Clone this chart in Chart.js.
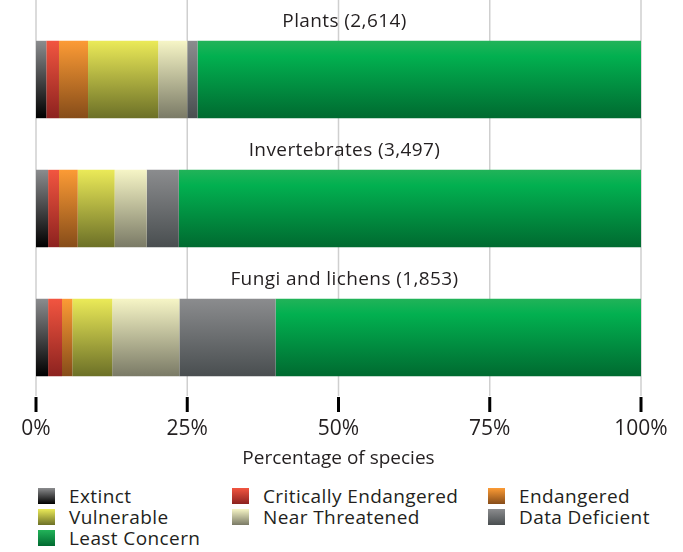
<!DOCTYPE html>
<html>
<head>
<meta charset="utf-8">
<script src="https://cdn.jsdelivr.net/npm/chart.js@4.4.1/dist/chart.umd.min.js"></script>
<style>
  html, body { margin: 0; padding: 0; background: #fff; }
  #wrap { position: relative; width: 683px; height: 552px; }
  #chartBox { position: absolute; left: 0; top: 0; width: 683px; height: 470px; }
  #legend {
    position: absolute; left: 38px; top: 485px;
    display: grid; grid-template-columns: 194px 256px 190px;
    font-family: "Open Sans", "Liberation Sans", sans-serif;
    font-size: 19px; letter-spacing: 0.4px; color: #231f20;
  }
  .item { display: flex; align-items: center; height: 21px; white-space: nowrap; }
  .sw { width: 17px; height: 16px; margin-right: 14px; flex: none; }
</style>
</head>
<body>
<div id="wrap">
  <div id="chartBox"><canvas id="rlChart"></canvas></div>
  <div id="legend"></div>
</div>
<script>
const categories = ['Plants (2,614)', 'Invertebrates (3,497)', 'Fungi and lichens (1,853)'];
const seriesNames = ['Extinct', 'Critically Endangered', 'Endangered', 'Vulnerable', 'Near Threatened', 'Data Deficient', 'Least Concern'];

// percentage of assessed species per category
const extinct        = [1.7, 2.0, 2.0];
const critically     = [2.1, 1.8, 2.3];
const endangered     = [4.8, 3.1, 1.7];
const vulnerable     = [11.6, 6.1, 6.6];
const nearThreatened = [4.8, 5.3, 11.1];
const dataDeficient  = [1.7, 5.3, 15.9];
const leastConcern   = [73.3, 76.4, 60.4];

const xTicks = [0, 25, 50, 75, 100];

// gradient stops top -> bottom for each category
const shades = [
  ['#8b8c8e', '#000000'],
  ['#f25540', '#8c221f'],
  ['#fc9b35', '#864c19'],
  ['#ebea58', '#6c7027'],
  ['#f6f5c6', '#7a7a66'],
  ['#8b8c8e', '#494e50'],
  ['#22b359', '#02b050', '#006a30']
];

const values = [extinct, critically, endangered, vulnerable, nearThreatened, dataDeficient, leastConcern];
const BAR_PCT = 0.6;
const FONT = '"Open Sans", "Liberation Sans", sans-serif';

function barFill(context, k) {
  const stops = shades[k];
  const chart = context.chart;
  const y = chart.scales.y;
  if (context.type !== 'data' || !y || !chart.chartArea) return stops[0];
  const band = (y.bottom - y.top) / categories.length;
  const h = band * BAR_PCT;
  const cy = y.getPixelForValue(context.dataIndex);
  const g = chart.ctx.createLinearGradient(0, cy - h / 2, 0, cy + h / 2);
  if (stops.length === 3) {
    g.addColorStop(0, stops[0]);
    g.addColorStop(0.2, stops[1]);
    g.addColorStop(1, stops[2]);
  } else {
    g.addColorStop(0, stops[0]);
    g.addColorStop(1, stops[1]);
  }
  return g;
}

// grid lines behind the bars, with a small gap before the black tick marks
const gridPlugin = {
  id: 'gridPlugin',
  beforeDatasetsDraw(chart) {
    const ctx = chart.ctx;
    const x = chart.scales.x;
    const bottom = chart.chartArea.bottom;
    ctx.save();
    xTicks.forEach(t => {
      const px = x.getPixelForValue(t);
      ctx.strokeStyle = '#cfcfcf';
      ctx.lineWidth = 1.5;
      ctx.beginPath();
      ctx.moveTo(px, 0);
      ctx.lineTo(px, bottom - 6);
      ctx.stroke();
      ctx.strokeStyle = '#000';
      ctx.lineWidth = 3;
      ctx.beginPath();
      ctx.moveTo(px, bottom - 5);
      ctx.lineTo(px, bottom + 10);
      ctx.stroke();
    });
    ctx.restore();
  },
  afterDatasetsDraw(chart) {
    const ctx = chart.ctx;
    const y = chart.scales.y;
    const area = chart.chartArea;
    const band = (y.bottom - y.top) / categories.length;
    const h = band * BAR_PCT;
    ctx.save();
    ctx.fillStyle = '#231f20';
    ctx.font = '19px ' + FONT;
    ctx.letterSpacing = '0.4px';
    ctx.textAlign = 'center';
    ctx.textBaseline = 'alphabetic';
    categories.forEach((c, i) => {
      const top = y.getPixelForValue(i) - h / 2;
      ctx.fillText(c, (area.left + area.right) / 2 + 6, top - 14);
    });
    ctx.restore();
  }
};

const ctx = document.getElementById('rlChart').getContext('2d');
new Chart(ctx, {
  type: 'bar',
  data: {
    labels: categories,
    datasets: seriesNames.map((name, k) => ({
      label: name,
      data: values[k],
      backgroundColor: c => barFill(c, k),
      borderWidth: 0,
      categoryPercentage: 1,
      barPercentage: BAR_PCT
    }))
  },
  options: {
    indexAxis: 'y',
    responsive: true,
    maintainAspectRatio: false,
    animation: false,
    layout: { padding: { left: 36, right: 42, top: 15, bottom: 0 } },
    plugins: {
      legend: { display: false },
      tooltip: { enabled: false }
    },
    scales: {
      x: {
        stacked: true,
        min: 0,
        max: 100,
        grid: { display: false, drawTicks: false },
        border: { display: false },
        afterBuildTicks: axis => { axis.ticks = xTicks.map(v => ({ value: v })); },
        ticks: {
          padding: 14,
          color: '#231f20',
          font: { family: FONT, size: 21 },
          maxRotation: 0,
          callback: v => v + '%'
        },
        title: {
          display: true,
          text: 'Percentage of species',
          color: '#231f20',
          font: { family: FONT, size: 19 },
          padding: { top: -8, bottom: 0 }
        }
      },
      y: {
        stacked: true,
        display: false
      }
    }
  },
  plugins: [gridPlugin]
});

// html legend, three columns like the original
const legend = document.getElementById('legend');
seriesNames.forEach((name, k) => {
  const s = shades[k];
  const item = document.createElement('div');
  item.className = 'item';
  const sw = document.createElement('span');
  sw.className = 'sw';
  sw.style.background = 'linear-gradient(' + s[0] + ', ' + s[s.length - 1] + ')';
  item.appendChild(sw);
  item.appendChild(document.createTextNode(name));
  legend.appendChild(item);
});
</script>
</body>
</html>
